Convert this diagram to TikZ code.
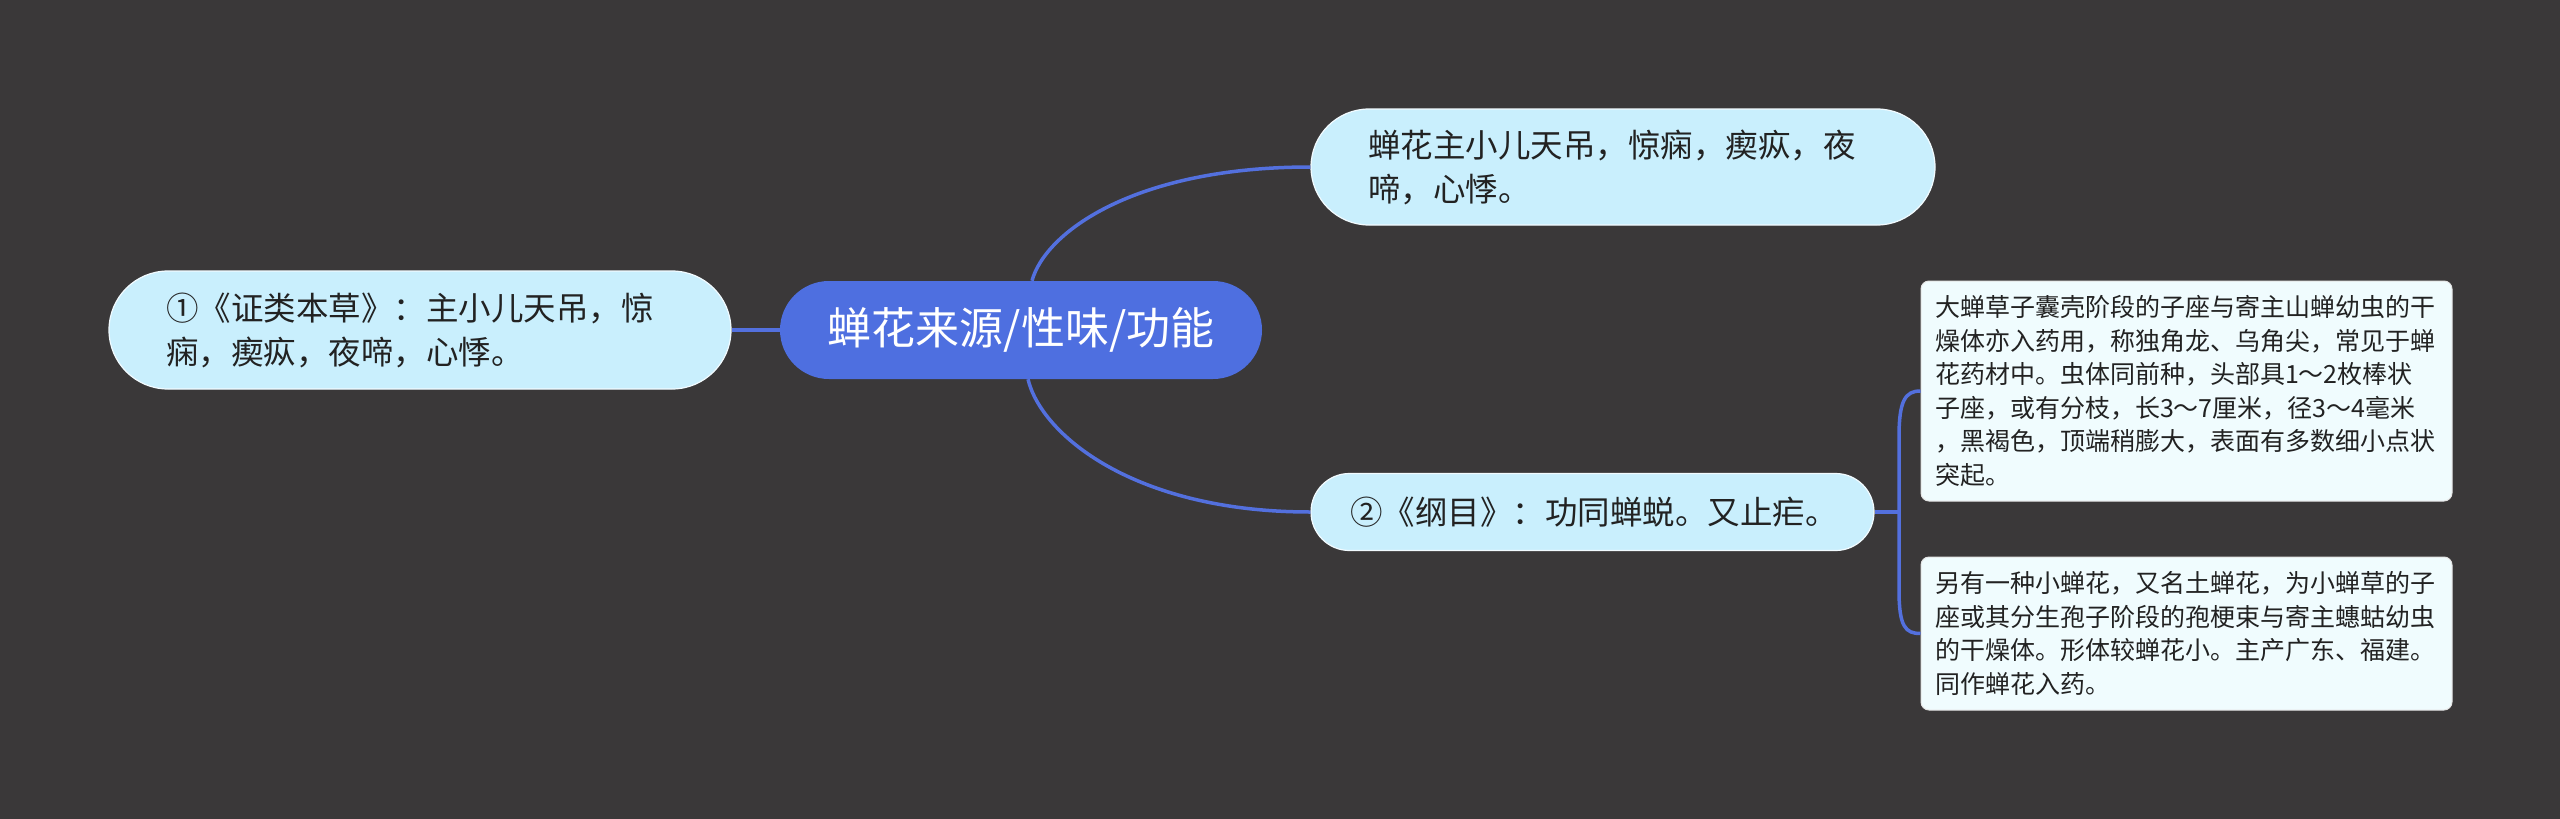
\documentclass[tikz,border=0pt]{standalone}
\usepackage{fontspec}
\setmainfont{Noto Sans CJK SC}
\definecolor{bgc}{RGB}{58,56,57}
\definecolor{rootc}{RGB}{78,111,224}
\definecolor{connc}{RGB}{83,112,222}
\definecolor{pillc}{RGB}{201,239,253}
\definecolor{boxc}{RGB}{240,252,254}
\definecolor{txtc}{RGB}{34,34,34}
\tikzset{
  conn/.style={draw=connc, line width=3.5pt},
  rootnode/.style={fill=rootc, text=white, rounded corners=49pt, minimum width=482pt, minimum height=98pt, inner sep=0pt, font=\fontsize{44}{52}\selectfont},
  pillnode/.style={fill=pillc, draw=white!75!pillc, line width=1.2pt, text=txtc, align=left, inner ysep=0pt, font=\fontsize{32.5}{44}\selectfont},
  leafbox/.style={fill=boxc, draw=white!80!gray, line width=1pt, text=txtc, align=left, rounded corners=8pt, inner xsep=14pt, inner ysep=0pt, font=\fontsize{25}{33.5}\selectfont}
}
\begin{document}
\begin{tikzpicture}[x=1pt,y=-1pt]
\useasboundingbox[fill=bgc] (0,0) rectangle (2560,819);

\node[rootnode] (root) at (1021,330) {蝉花来源/性味/功能};

\node[pillnode, rounded corners=58pt, minimum width=624pt, minimum height=116pt, text width=510pt, inner xsep=57pt] (top) at (1623,167) {蝉花主小儿天吊，惊痫，瘈疭，夜\\啼，心悸。};

\node[pillnode, rounded corners=59pt, minimum width=622pt, minimum height=118pt, text width=508pt, inner xsep=57pt] (left) at (420,330) {①《证类本草》：主小儿天吊，惊\\痫，瘈疭，夜啼，心悸。};

\node[pillnode, rounded corners=38.5pt, minimum width=563pt, minimum height=77pt, text width=485pt, inner xsep=39pt] (mid) at (1592.5,512) {②《纲目》：功同蝉蜕。又止疟。};

\node[leafbox, minimum width=531pt, minimum height=220pt, text width=503pt] (box1) at (2186.5,391) {大蝉草子囊壳阶段的子座与寄主山蝉幼虫的干\\燥体亦入药用，称独角龙、乌角尖，常见于蝉\\花药材中。虫体同前种，头部具1～2枚棒状\\子座，或有分枝，长3～7厘米，径3～4毫米\\，黑褐色，顶端稍膨大，表面有多数细小点状\\突起。};

\node[leafbox, minimum width=531pt, minimum height=153pt, text width=503pt] (box2) at (2186.5,633.5) {另有一种小蝉花，又名土蝉花，为小蝉草的子\\座或其分生孢子阶段的孢梗束与寄主蟪蛄幼虫\\的干燥体。形体较蝉花小。主产广东、福建。\\同作蝉花入药。};

\coordinate (br) at (1899,512);
\coordinate (bt) at (1899,437);
\coordinate (bb) at (1899,590);

\draw[conn] (root.west) -- (left.east);
\draw[conn] ([xshift=11pt]root.north) .. controls +(13,-48) and +(-177,0) .. (top.west);
\draw[conn] ([xshift=7pt]root.south) .. controls +(13,55) and +(-177,0) .. (mid.west);
\draw[conn] (mid.east) -- (br);
\draw[conn] (box1.west) .. controls +(-15,0) and +(0,-37) .. (bt) -- (bb) .. controls +(0,37) and +(-15,0) .. (box2.west);
\end{tikzpicture}
\end{document}
